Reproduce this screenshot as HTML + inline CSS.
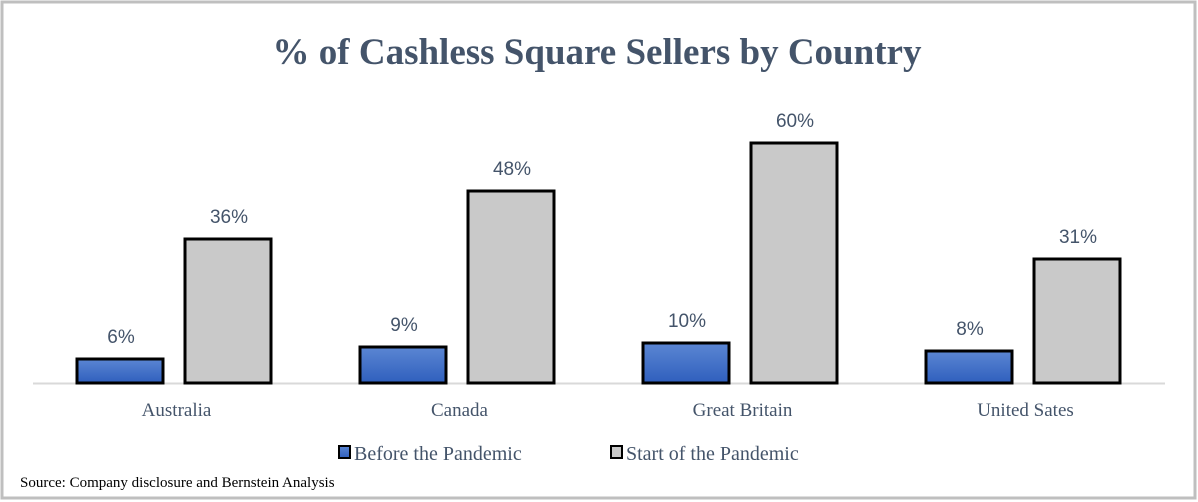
<!DOCTYPE html>
<html><head><meta charset="utf-8"><style>
html,body{margin:0;padding:0;background:#fff;}
svg{display:block;}
</style></head><body>
<svg width="1198" height="502" viewBox="0 0 1198 502" xmlns="http://www.w3.org/2000/svg">
<defs>
<linearGradient id="blueg" x1="0" y1="0" x2="0" y2="1">
<stop offset="0" stop-color="#5b86d3"/><stop offset="1" stop-color="#2f5fbd"/>
</linearGradient>
</defs>
<rect x="2" y="2" width="1193" height="496" fill="#fff" stroke="#bfbfbf" stroke-width="3"/>
<text x="597" y="64" text-anchor="middle" font-family="Liberation Serif, serif" font-weight="bold" font-size="37" fill="#44546a">% of Cashless Square Sellers by Country</text>
<line x1="33" y1="383.5" x2="1165" y2="383.5" stroke="#d9d9d9" stroke-width="2"/>
<g id="bars"></g>
<g>
<rect x="339" y="446" width="11" height="12" fill="url(#blueg)" stroke="#000" stroke-width="2"/>
<text x="354" y="460" font-family="Liberation Serif, serif" font-size="20" fill="#44546a">Before the Pandemic</text>
<rect x="611" y="446" width="11" height="12" fill="#c9c9c9" stroke="#000" stroke-width="2"/>
<text x="626" y="460" font-family="Liberation Serif, serif" font-size="20" fill="#44546a">Start of the Pandemic</text>
</g>
<text x="20" y="487" font-family="Liberation Serif, serif" font-size="15" fill="#000">Source: Company disclosure and Bernstein Analysis</text>
</svg>
<script>
const categories = ["Australia", "Canada", "Great Britain", "United Sates"];
const beforeValues = [6, 9, 10, 8];
const startValues = [36, 48, 60, 31];
const valueLabelsBefore = ["6%", "9%", "10%", "8%"];
const valueLabelsStart = ["36%", "48%", "60%", "31%"];

const NS = "http://www.w3.org/2000/svg";
const g = document.getElementById("bars");
const x0 = 33, catW = 283, baseY = 383, pxPer = 4;
function xCat(i){ return x0 + i*catW; }
function yVal(v){ return baseY - v*pxPer; }
function mk(tag, attrs){ const e=document.createElementNS(NS,tag); for(const k in attrs) e.setAttribute(k, attrs[k]); return e; }

categories.forEach((c,i)=>{
  const cx = xCat(i);
  const series = [
    {v: beforeValues[i], lab: valueLabelsBefore[i], x: cx+44, fill: "url(#blueg)", n: "before"},
    {v: startValues[i], lab: valueLabelsStart[i], x: cx+152, fill: "#c9c9c9", n: "start"}
  ];
  series.forEach(s=>{
    const y = yVal(s.v);
    const r = mk("rect", {x: s.x, y: y, width: 86, height: baseY - y, fill: s.fill, stroke: "#000", "stroke-width": 3});
    
    
    g.appendChild(r);
    const t = mk("text", {x: s.x+44, y: y-16, "text-anchor": "middle", "font-family": "Liberation Sans, sans-serif", "font-size": "19", fill: "#44546a"});
    t.textContent = s.lab;
    
    
    g.appendChild(t);
  });
  const ct = mk("text", {x: cx + catW/2 + 2, y: 416, "text-anchor": "middle", "font-family": "Liberation Serif, serif", "font-size": "19", fill: "#44546a"});
  ct.textContent = c;
  
  
  g.appendChild(ct);
});
</script>
</body></html>
